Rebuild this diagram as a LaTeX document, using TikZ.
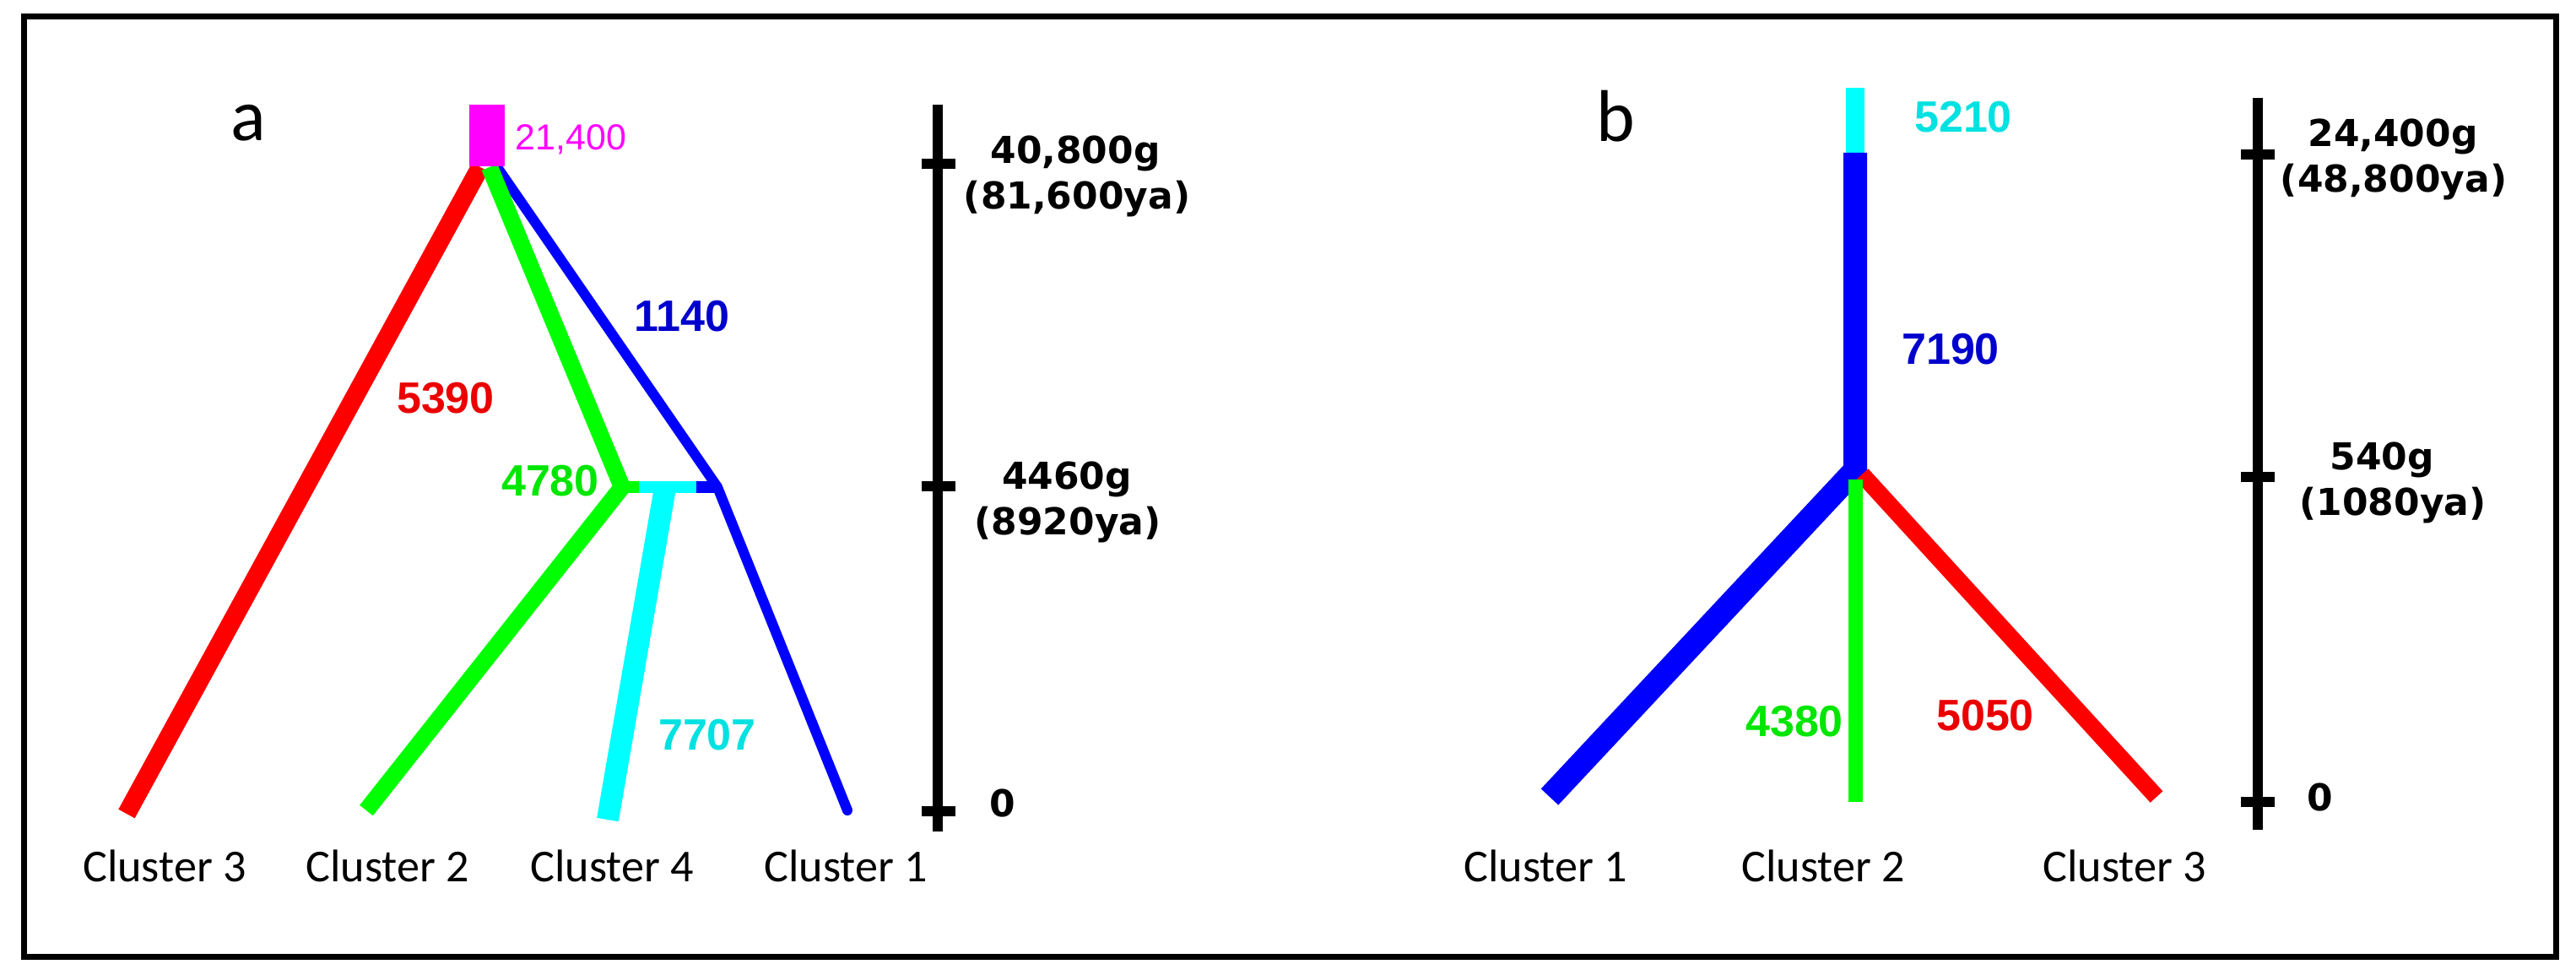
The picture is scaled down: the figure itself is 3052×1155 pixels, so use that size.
\documentclass[tikz,border=0pt]{standalone}
\usepackage{fontspec}
\setmainfont{Carlito}
\newfontfamily\numfont{Liberation Sans}
\newfontfamily\axfont{DejaVu Sans}
\definecolor{pred}{RGB}{255,0,0}
\definecolor{pgreen}{RGB}{0,255,0}
\definecolor{pblue}{RGB}{0,0,255}
\definecolor{pcyan}{RGB}{0,255,255}
\definecolor{pmag}{RGB}{255,0,255}
\definecolor{tblue}{RGB}{0,0,205}
\definecolor{tgreen}{RGB}{0,230,0}
\definecolor{tcyan}{RGB}{0,225,225}
\definecolor{tred}{RGB}{235,0,0}
\begin{document}
\begin{tikzpicture}[x=0.01cm,y=-0.01cm,
  branch/.style={line cap=butt,line join=miter,miter limit=3},
  numlbl/.style={inner sep=0pt,anchor=base,font=\numfont\bfseries\fontsize{14.8}{17}\selectfont},
  axlbl/.style={inner sep=0pt,anchor=base,font=\axfont\bfseries\fontsize{12.5}{15}\selectfont},
  clus/.style={inner sep=0pt,anchor=base,font=\fontsize{15.4}{18}\selectfont},
  panel/.style={inner sep=0pt,anchor=base,font=\fontsize{24.7}{28}\selectfont},
  axisline/.style={line width=3.41pt,black},
  tick/.style={line width=3.41pt,black}]
\useasboundingbox (0,0) rectangle (3052,1155);
\draw[line width=2pt] (28.5,19.5) rectangle (3028.5,1133.5);

% ---------------- panel a ----------------
\node[panel] (pa) at (294,167) {a};
\coordinate (rootR) at (569,198);
\coordinate (rootG) at (580,198);
\coordinate (rootB) at (589,198);
\coordinate (c3a) at (150,964);
\coordinate (jG) at (737,577);
\coordinate (c2a) at (434,960);
\coordinate (jB) at (850,577);
\coordinate (c1a) at (1004,960);
\coordinate (gEnd) at (757,577);
\coordinate (bStart) at (825,577);
\coordinate (cTop) at (788,578);
\coordinate (c4a) at (720,971);

\draw[branch,pred,line width=6.26pt] (rootR) -- (c3a);
\draw[branch,pblue,line width=3.41pt] (rootB) -- (jB) -- (c1a);
\draw[pblue,line width=3.41pt,line cap=round] (c1a) -- ++(0,-0.01);
\draw[branch,pgreen,line width=5.69pt] (rootG) -- (jG) -- (c2a);
\draw[pcyan,line width=3.7pt] (gEnd) -- (bStart);
\draw[pgreen,line width=3.7pt] (jG) -- (gEnd);
\draw[pblue,line width=3.7pt] (bStart) -- (jB);
\draw[branch,pcyan,line width=7.4pt] (cTop) -- (c4a);
\node[fill=pmag,inner sep=0pt,minimum width=0.41cm,minimum height=0.73cm,anchor=south] (rootbox) at (577,198) {};

\node[inner sep=0pt,anchor=base west,text=pmag,font=\numfont\fontsize{12.2}{14}\selectfont] (l21400) at (610,178) {21,400};
\node[numlbl,text=tblue] (l1140) at (808,393) {1140};
\node[numlbl,text=tred] (l5390) at (528,489) {5390};
\node[numlbl,text=tgreen] (l4780) at (652,587) {4780};
\node[numlbl,text=tcyan] (l7707) at (838,888) {7707};

\node[clus] (la3) at (195,1044) {Cluster 3};
\node[clus] (la2) at (459,1044) {Cluster 2};
\node[clus] (la4) at (725,1044) {Cluster 4};
\node[clus] (la1) at (1002,1044) {Cluster 1};

% axis a
\coordinate (axaT) at (1111,124);
\coordinate (axaB) at (1111,985);
\draw[axisline] (axaT) -- (axaB);
\foreach \yy/\nm in {194/t1,576/t2,961/t3} {
  \coordinate (axa\nm L) at (1092,\yy);
  \coordinate (axa\nm R) at (1132,\yy);
  \draw[tick] (axa\nm L) -- (axa\nm R);
}
\node[axlbl] (ax1) at (1274,194) {40,800g};
\node[axlbl] (ax2) at (1276,248) {(81,600ya)};
\node[axlbl] (ax3) at (1264,579) {4460g};
\node[axlbl] (ax4) at (1265,633) {(8920ya)};
\node[axlbl] (ax5) at (1188,967) {0};

% ---------------- panel b ----------------
\node[panel] (pb) at (1914,168) {b};
\coordinate (bTop) at (2198,104);
\coordinate (bMid) at (2198,181);
\coordinate (bJ) at (2198,557);
\coordinate (bJr) at (2206,562);
\coordinate (bJg) at (2198,568);
\coordinate (c1b) at (1836,944);
\coordinate (c2b) at (2198,950);
\coordinate (c3b) at (2555,944);

\draw[branch,pcyan,line width=6.26pt] (bTop) -- (bMid);
\draw[branch,pblue,line width=7.97pt] (bMid) -- (bJ) -- (c1b);
\draw[branch,pred,line width=5.69pt] (bJr) -- (c3b);
\draw[branch,pgreen,line width=4.84pt] (bJg) -- (c2b);

\node[numlbl,text=tcyan] (l5210) at (2326,157) {5210};
\node[numlbl,text=tblue] (l7190) at (2311,432) {7190};
\node[numlbl,text=tgreen] (l4380) at (2126,872) {4380};
\node[numlbl,text=tred] (l5050) at (2352,865) {5050};

\node[clus] (lb1) at (1831,1044) {Cluster 1};
\node[clus] (lb2) at (2160,1044) {Cluster 2};
\node[clus] (lb3) at (2517,1044) {Cluster 3};

% axis b
\coordinate (axbT) at (2675,116);
\coordinate (axbB) at (2675,983);
\draw[axisline] (axbT) -- (axbB);
\foreach \yy/\nm in {183/t1,565/t2,950/t3} {
  \coordinate (axb\nm L) at (2655,\yy);
  \coordinate (axb\nm R) at (2695,\yy);
  \draw[tick] (axb\nm L) -- (axb\nm R);
}
\node[axlbl] (bx1) at (2835,174) {24,400g};
\node[axlbl] (bx2) at (2836,228) {(48,800ya)};
\node[axlbl] (bx3) at (2822,556) {540g};
\node[axlbl] (bx4) at (2835,610) {(1080ya)};
\node[axlbl] (bx5) at (2749,960) {0};
\end{tikzpicture}
\end{document}
